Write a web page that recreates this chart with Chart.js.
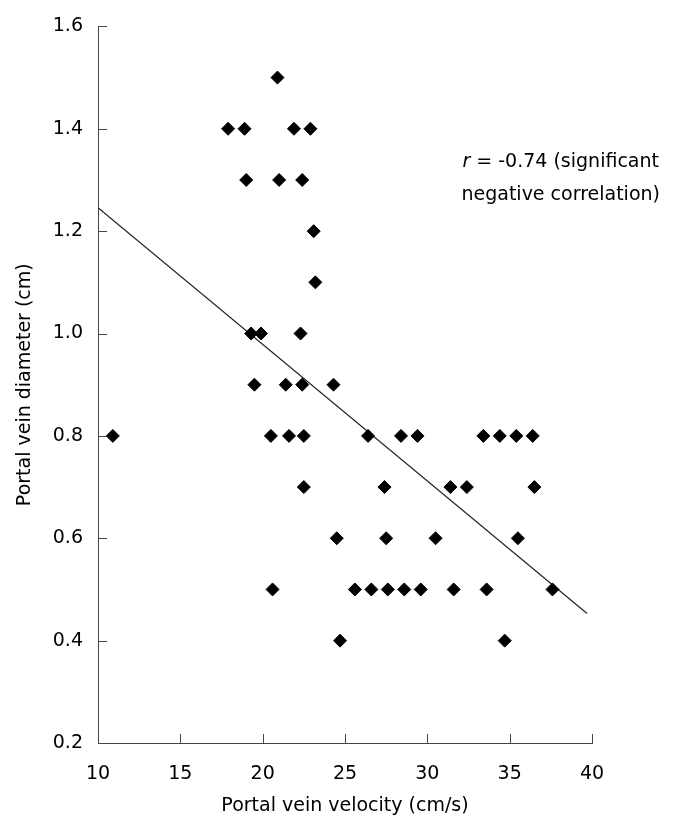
<!DOCTYPE html>
<html>
<head>
<meta charset="utf-8">
<script src="https://cdn.jsdelivr.net/npm/chart.js@4/dist/chart.umd.min.js"></script>
<style>
  html, body { margin: 0; padding: 0; background: #fff; }
  #wrap { width: 686px; height: 827px; }
</style>
</head>
<body>
<div id="wrap"><canvas id="scatterChart" width="686" height="827"></canvas></div>
<script>
// Portal vein velocity (cm/s) vs portal vein diameter (cm)
const velocity = [
  10.9,
  17.9, 18.9, 19.0, 20.9, 21.0, 21.9, 22.4, 22.9, 23.1, 23.2,
  19.3, 19.9, 22.3,
  19.5, 21.4, 22.4, 24.3,
  20.5, 21.6, 22.5, 26.4, 28.4, 29.4, 33.4, 34.4, 35.4, 36.4,
  22.5, 27.4, 31.4, 32.4, 36.5,
  24.5, 27.5, 30.5, 35.5,
  20.6, 25.6, 26.6, 27.6, 28.6, 29.6, 31.6, 33.6, 37.6,
  24.7, 34.7
];
const diameter = [
  0.8,
  1.4, 1.4, 1.3, 1.5, 1.3, 1.4, 1.3, 1.4, 1.2, 1.1,
  1.0, 1.0, 1.0,
  0.9, 0.9, 0.9, 0.9,
  0.8, 0.8, 0.8, 0.8, 0.8, 0.8, 0.8, 0.8, 0.8, 0.8,
  0.7, 0.7, 0.7, 0.7, 0.7,
  0.6, 0.6, 0.6, 0.6,
  0.5, 0.5, 0.5, 0.5, 0.5, 0.5, 0.5, 0.5, 0.5,
  0.4, 0.4
];

// fitted regression line, end points
const fitX = [10, 39.7];
const fitY = [1.246, 0.453];

const xTicks = [10, 15, 20, 25, 30, 35, 40];
const yTicks = [0.2, 0.4, 0.6, 0.8, 1.0, 1.2, 1.4, 1.6];

const annotationLines = ["= -0.74 (significant", "negative correlation)"];

const FONT = "'DejaVu Sans', sans-serif";
const FONT_SIZE = 19;
const AXIS_COLOR = "#444";

const points = velocity.map((v, i) => ({ x: v, y: diameter[i] }));
const fitLine = fitX.map((v, i) => ({ x: v, y: fitY[i] }));

// ticks in this chart point inward, so draw them by hand
const innerTicks = {
  id: "innerTicks",
  afterDraw(chart) {
    const { ctx, chartArea, scales } = chart;
    const len = 9;
    ctx.save();
    ctx.strokeStyle = AXIS_COLOR;
    ctx.lineWidth = 1;
    ctx.beginPath();
    xTicks.forEach((t) => {
      const px = Math.round(scales.x.getPixelForValue(t)) + 0.5;
      ctx.moveTo(px, chartArea.bottom);
      ctx.lineTo(px, chartArea.bottom - len);
    });
    yTicks.forEach((t) => {
      const py = Math.round(scales.y.getPixelForValue(t)) + 0.5;
      ctx.moveTo(chartArea.left, py);
      ctx.lineTo(chartArea.left + len, py);
    });
    ctx.stroke();
    ctx.restore();
  },
};

const annotation = {
  id: "annotation",
  afterDraw(chart) {
    const { ctx, scales } = chart;
    const cx = scales.x.getPixelForValue(38.1);
    const y1 = scales.y.getPixelForValue(1.335);
    const y2 = scales.y.getPixelForValue(1.27);
    ctx.save();
    ctx.fillStyle = "#000";
    ctx.textBaseline = "middle";
    ctx.font = FONT_SIZE + "px " + FONT;
    const w1 = ctx.measureText(annotationLines[0]).width;
    ctx.font = "italic " + FONT_SIZE + "px " + FONT;
    const rw = ctx.measureText("r ").width;
    const left = cx - (w1 + rw) / 2;
    ctx.textAlign = "left";
    ctx.fillText("r", left, y1);
    ctx.font = FONT_SIZE + "px " + FONT;
    ctx.fillText(annotationLines[0], left + rw, y1);
    ctx.textAlign = "center";
    ctx.fillText(annotationLines[1], cx, y2);
    ctx.restore();
  },
};

new Chart(document.getElementById("scatterChart"), {
  type: "scatter",
  data: {
    datasets: [
      {
        label: "Patients",
        data: points,
        pointStyle: "rectRot",
        pointRadius: 6.5,
        pointBackgroundColor: "#000",
        pointBorderColor: "#000",
        pointBorderWidth: 1,
      },
      {
        label: "Fit",
        type: "line",
        data: fitLine,
        borderColor: "#222",
        borderWidth: 1.2,
        pointRadius: 0,
        fill: false,
      },
    ],
  },
  options: {
    responsive: false,
    animation: false,
    layout: { padding: { left: 14, right: 94, top: 22, bottom: 0 } },
    plugins: {
      legend: { display: false },
      tooltip: { enabled: false },
    },
    scales: {
      x: {
        type: "linear",
        min: 10,
        max: 40,
        afterBuildTicks: (scale) => {
          scale.ticks = xTicks.map((v) => ({ value: v }));
        },
        afterFit: (scale) => {
          scale.height = 84;
        },
        grid: { display: false, drawTicks: false },
        border: { display: true, color: AXIS_COLOR, width: 1 },
        ticks: {
          color: "#000",
          font: { family: FONT, size: FONT_SIZE },
          padding: 20,
          maxRotation: 0,
        },
        title: {
          display: true,
          text: "Portal vein velocity (cm/s)",
          color: "#000",
          font: { family: FONT, size: FONT_SIZE },
          padding: { top: 4, bottom: 10 },
        },
      },
      y: {
        type: "linear",
        min: 0.2,
        max: 1.6,
        afterBuildTicks: (scale) => {
          scale.ticks = yTicks.map((v) => ({ value: v }));
        },
        afterFit: (scale) => {
          scale.width = 84;
        },
        grid: { display: false, drawTicks: false },
        border: { display: true, color: AXIS_COLOR, width: 1 },
        ticks: {
          color: "#000",
          font: { family: FONT, size: FONT_SIZE },
          padding: 15,
          callback: (v) => Number(v).toFixed(1),
        },
        title: {
          display: true,
          text: "Portal vein diameter (cm)",
          color: "#000",
          font: { family: FONT, size: FONT_SIZE },
          padding: { top: 0, bottom: 4 },
        },
      },
    },
  },
  plugins: [innerTicks, annotation],
});
</script>
</body>
</html>
